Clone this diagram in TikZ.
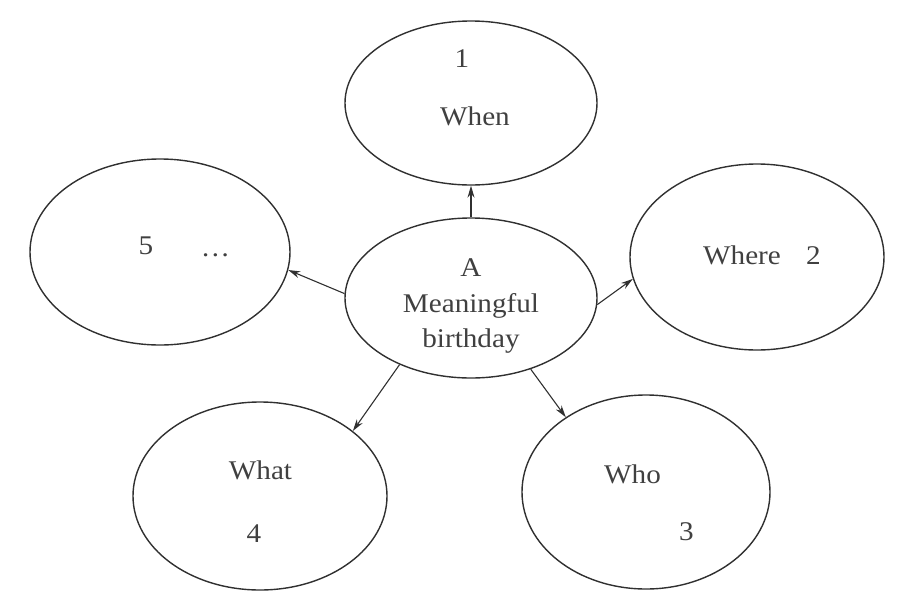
\documentclass[tikz,border=0pt]{standalone}
\usepackage{fontspec}
\setmainfont{Liberation Serif}[FakeStretch=1.08]
\usetikzlibrary{shapes.geometric,arrows.meta}
\definecolor{ink}{HTML}{303030}
\definecolor{txt}{HTML}{404040}
\tikzset{
  bubble/.style={ellipse, draw=ink, line width=1.4pt, inner sep=0pt},
  lbl/.style={text=txt, font=\fontsize{27}{35}\selectfont, inner sep=0pt, anchor=base},
  conn/.style={draw=ink, line width=1.1pt, -{Stealth[length=12pt,width=7pt]}}
}
\begin{document}
\begin{tikzpicture}[x=1pt,y=-1pt]
\useasboundingbox (0,0) rectangle (908,603);
\node[bubble, minimum width=252pt, minimum height=160pt] (c) at (471,298) {};
\node[bubble, minimum width=252pt, minimum height=164pt] (t) at (471,103) {};
\node[bubble, minimum width=260pt, minimum height=186pt] (l) at (160,252) {};
\node[bubble, minimum width=254pt, minimum height=186pt] (r) at (757,257) {};
\node[bubble, minimum width=254pt, minimum height=188pt] (bl) at (260,496) {};
\node[bubble, minimum width=248pt, minimum height=194pt] (br) at (646,492) {};

\node[lbl] (cA) at (471,276) {A};
\node[lbl] (cM) at (471,312.5) {Meaningful};
\node[lbl] (cB) at (471,347) {birthday};
\node[lbl] (t1) at (462,67) {1};
\node[lbl] (tW) at (475,125) {When};
\node[lbl] (l5) at (146,254.5) {5};
\node[lbl] (ld) at (215.5,256.5) {\dots};
\node[lbl] (rW) at (742,264.3) {Where};
\node[lbl] (r2) at (813.5,264.3) {2};
\node[lbl] (blW) at (260.5,479.3) {What};
\node[lbl] (bl4) at (254,542.7) {4};
\node[lbl] (brW) at (632.5,483.3) {Who};
\node[lbl] (br3) at (686.5,540) {3};

\draw[conn] (c.90) -- (t.270);
\draw[conn] (c.178.6) -- (l.352.7);
\draw[conn] (c.357.7) -- (r.190.5);
\draw[conn] (c.223.6) -- (bl.35);
\draw[conn] (c.310) -- (br.137);
\end{tikzpicture}
\end{document}
